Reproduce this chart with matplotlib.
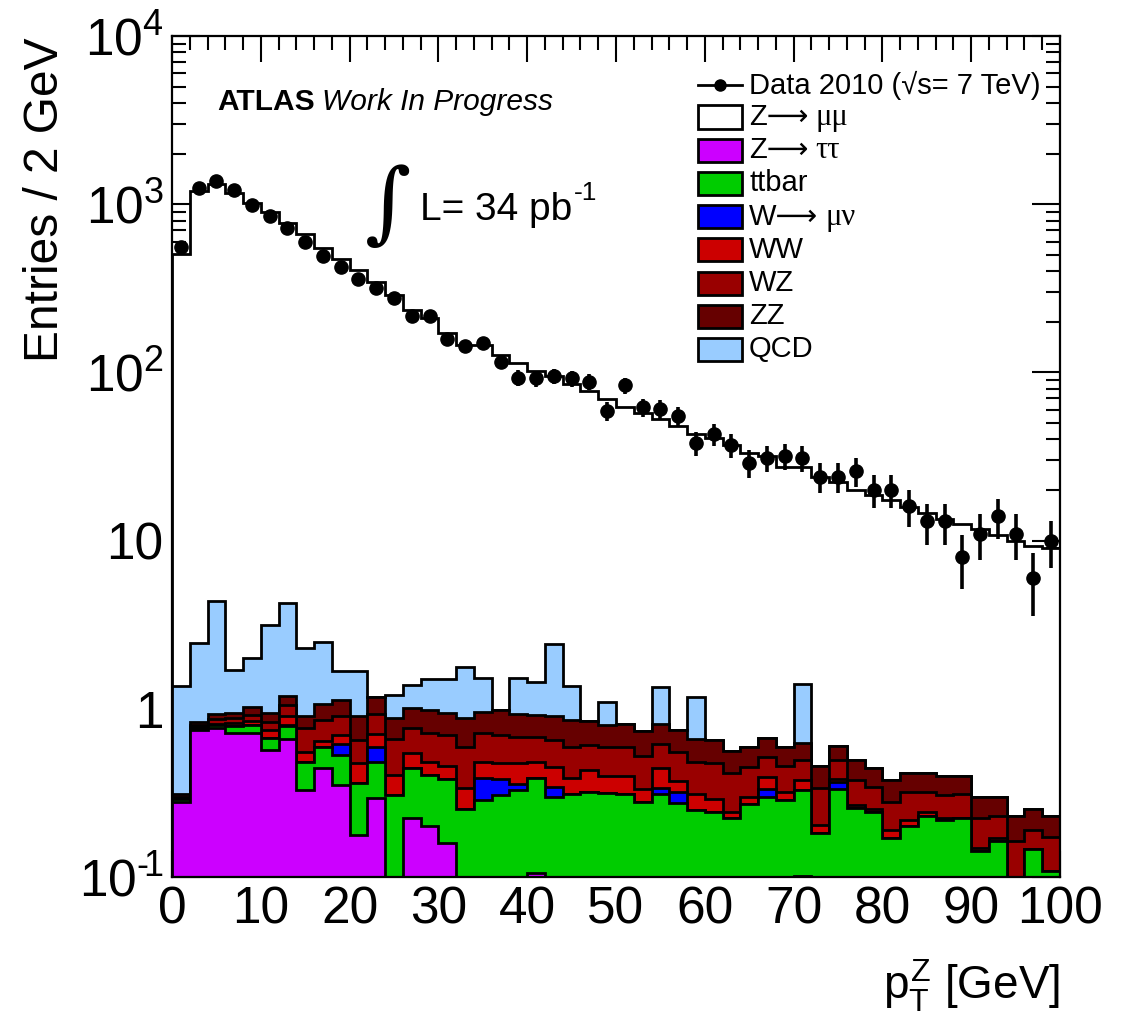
import numpy as np
import matplotlib
matplotlib.use("Agg")
import matplotlib.pyplot as plt
from matplotlib.patches import Rectangle
from matplotlib.lines import Line2D
from matplotlib.ticker import FixedLocator, MultipleLocator, LogLocator, NullFormatter

plt.rcParams['font.family'] = ['Liberation Sans', 'DejaVu Sans']
plt.rcParams['mathtext.fontset'] = 'custom'
plt.rcParams['mathtext.rm'] = 'Liberation Sans'
plt.rcParams['mathtext.it'] = 'Liberation Sans'
plt.rcParams['mathtext.bf'] = 'Liberation Sans:bold'

# ---------------- data ----------------
bin_edges = np.arange(0, 102, 2)

data_2010 = [558, 1250, 1378, 1218, 991, 853, 724, 598, 493, 424,
             360, 319, 278, 217, 216, 158, 144, 149, 115, 93,
             92, 95, 92, 88, 59, 84, 62, 61, 55, 38,
             43, 37, 29, 31, 32, 31, 24, 24, 26, 20,
             20, 16, 13, 13, 8, 11, 14, 11, 6, 10]

mc_total = [507, 1190, 1320, 1160, 1015, 893, 772, 667, 551, 472,
            408, 347, 289, 236, 211, 171, 145, 145, 127, 114,
            102, 95.3, 85.6, 77, 69.4, 61.9, 57.6, 52.8, 47.7, 43.2,
            40.7, 37, 33, 32, 27.5, 27.5, 24, 22.4, 20, 18.7,
            17.5, 15.8, 14.5, 13.4, 12.6, 11.7, 10.8, 10.0, 9.35, 9.0]

z_tautau = [.28, .75, .767, .717, .717, .57, .66, .33, .444, .353,
            .178, .294, 0, .224, .20, .159, 0, 0, 0, 0,
            .105, 0, 0, 0, 0, 0, 0, 0, 0, 0,
            0, 0, 0, 0, 0, .101, 0, 0, 0, 0,
            0, 0, 0, 0, 0, 0, 0, 0, 0, 0]
ttbar = [.01, .01, .033, .068, .083, .10, .13, .156, .152, .18,
         .184, .186, .306, .22, .205, .221, .254, .288, .308, .33,
         .282, .30, .312, .322, .317, .312, .281, .312, .277, .249,
         .242, .224, .272, .30, .285, .229, .182, .333, .257, .242,
         .17, .20, .229, .219, .224, .142, .163, .05, .147, .109]
w_munu = [0, 0, 0, 0, 0, 0, .01, 0, 0, .087,
          0, .11, 0, 0, 0, 0, 0, .098, .072, .028,
          0, .045, 0, 0, 0, 0, 0, .028, .045, 0,
          0, 0, 0, .033, 0, 0, 0, .032, 0, 0,
          0, 0, 0, 0, 0, 0, 0, 0, 0, 0]
ww = [.005, .015, .015, .037, .05, .08, .11, .071, .044, .08,
      .115, .12, .099, .102, .081, .078, .083, .094, .096, .118,
      .099, .105, .075, .112, .083, .088, .052, .104, .048, .063,
      .048, .021, .028, .059, .037, .048, .022, .015, .012, .012,
      .02, .019, .013, .006, 0, .007, .007, 0, 0, 0]
wz = [.005, .025, .055, .058, .07, .09, .14, .21, .22, .21,
      .177, .22, .255, .221, .234, .242, .259, .237, .224, .208,
      .198, .204, .209, .176, .195, .196, .192, .176, .187, .174,
      .186, .169, .15, .128, .136, .115, .136, .113, .109, .091,
      .091, .103, .076, .083, .088, .075, .061, .113, .043, .063]
zz = [.01, .03, .06, .06, .11, .10, .14, .143, .21, .22,
      .246, .25, .22, .243, .26, .24, .284, .243, .28, .246,
      .236, .256, .264, .242, .205, .218, .208, .19, .193, .174,
      .172, .151, .14, .15, .132, .137, .12, .107, .115, .099,
      .097, .092, .096, .088, .084, .076, .069, .066, .064, .057]
qcd = [1.05, 1.63, 3.42, .75, .97, 2.22, 3.06, 1.38, 1.41, .55,
       .77, 0, .33, .38, .52, .56, .90, .56, 0, .59,
       .53, 1.52, .50, 0, .305, 0, 0, .53, 0, .52,
       0, 0, 0, 0, 0, .78, 0, 0, 0, 0,
       0, 0, 0, 0, 0, 0, 0, 0, 0, 0]

# legend labels: (sans part, serif greek part)
labels = [('Z\u27f6', '\u03bc\u03bc'), ('Z\u27f6', '\u03c4\u03c4'), ('ttbar', ''),
          ('W\u27f6', '\u03bc\u03bd'), ('WW', ''), ('WZ', ''), ('ZZ', ''), ('QCD', '')]
colors = {'zmumu': '#ffffff', 'ztt': '#cc00ff', 'tt': '#00cc00', 'w': '#0000ff',
          'ww': '#cc0000', 'wz': '#990000', 'zz': '#660000', 'qcd': '#99ccff'}

# ---------------- figure ----------------
W, H = 1130, 1025
fig = plt.figure(figsize=(W / 100, H / 100), dpi=100)
L, R, T, B = 172, 1060, 36, 877
ax = fig.add_axes([L / W, 1 - B / H, (R - L) / W, (B - T) / H])
ax.set_yscale('log')
ax.set_xlim(0, 100)
ax.set_ylim(0.1, 1e4)

comps = [np.array(z_tautau), np.array(ttbar), np.array(w_munu), np.array(ww),
         np.array(wz), np.array(zz), np.array(qcd)]
ccols = [colors['ztt'], colors['tt'], colors['w'], colors['ww'],
         colors['wz'], colors['zz'], colors['qcd']]
cums = np.cumsum(np.vstack(comps), axis=0)
total = np.array(mc_total, dtype=float)

lw = 2.0
floor = 1e-3
ax.stairs(np.maximum(total, floor), bin_edges, baseline=floor, fill=True,
          facecolor='white', edgecolor='black', lw=lw, zorder=2)
for k in range(len(comps) - 1, -1, -1):
    ax.stairs(np.maximum(cums[k], floor), bin_edges, baseline=floor, fill=True,
              facecolor=ccols[k], edgecolor='black', lw=lw, zorder=2)

centers = 0.5 * (bin_edges[:-1] + bin_edges[1:])
d = np.array(data_2010, dtype=float)
ax.errorbar(centers, d, yerr=np.sqrt(d), fmt='o', color='black', ms=9.5,
            elinewidth=2.6, capsize=0, zorder=5)

for s in ax.spines.values():
    s.set_linewidth(1.6)
    s.set_zorder(10)
ax.xaxis.set_major_locator(MultipleLocator(10))
ax.xaxis.set_minor_locator(MultipleLocator(2))
ax.yaxis.set_major_locator(FixedLocator([0.1, 1, 10, 100, 1000, 10000]))
ax.set_yticklabels(['$10^{\u2010\\!1}$', '1', '10', r'$10^{2}$', r'$10^{3}$', r'$10^{4}$'])
ax.yaxis.set_minor_locator(LogLocator(base=10, subs=np.arange(2, 10), numticks=20))
ax.yaxis.set_minor_formatter(NullFormatter())
ax.tick_params(which='both', direction='in', top=True, right=True, width=1.5,
               labelsize=37, zorder=11)
ax.tick_params(axis='x', which='major', length=19, pad=6)
ax.tick_params(axis='x', which='minor', length=10)
ax.tick_params(axis='y', which='major', length=20, pad=6)
ax.tick_params(axis='y', which='minor', length=10)


def fx(px):
    return px / W


def fy(py):
    return 1 - py / H


renderer = fig.canvas.get_renderer()


def right_px(t):
    return t.get_window_extent(renderer=renderer).x1


fig.text(fx(46), fy(38), 'Entries / 2 GeV', rotation=90, ha='center', va='top', fontsize=34.5)
fig.text(fx(1060), fy(1000), r'$p_{T}^{Z}$ [GeV]', ha='right', va='baseline', fontsize=33)

fig.text(fx(217), fy(110), 'ATLAS', fontweight='bold', fontsize=21.5, ha='left', va='baseline')
fig.text(fx(322), fy(110), 'Work In Progress', fontstyle='italic', fontsize=21.5,
         ha='left', va='baseline')
fig.text(fx(388), fy(207), '\u222b', family=['DejaVu Serif'], fontsize=64,
         ha='center', va='center')
tL = fig.text(fx(420), fy(220), 'L= 34 pb', fontsize=28, ha='left', va='baseline')
fig.text(right_px(tL) / W + 2 / W, fy(200), '-1', fontsize=19, ha='left', va='baseline')

# legend (manual)
leg_x0, leg_w, leg_h = 698, 44, 23
fs_leg = 21
fig.add_artist(Line2D([fx(leg_x0), fx(leg_x0 + leg_w)], [fy(85), fy(85)],
                      color='black', lw=2, transform=fig.transFigure))
fig.add_artist(Line2D([fx(leg_x0 + leg_w / 2)], [fy(85)], color='black', marker='o',
                      ms=8, transform=fig.transFigure))
fig.text(fx(749), fy(85), 'Data 2010 (\u221as= 7 TeV)', fontsize=fs_leg, ha='left', va='center')
leg_cols = [colors['zmumu'], colors['ztt'], colors['tt'], colors['w'],
            colors['ww'], colors['wz'], colors['zz'], colors['qcd']]
for i, ((lab, greek), c) in enumerate(zip(labels, leg_cols)):
    yc = 117 + 33.2 * i
    fig.add_artist(Rectangle((fx(leg_x0), fy(yc + leg_h / 2)), leg_w / W, leg_h / H,
                             facecolor=c, edgecolor='black', lw=2,
                             transform=fig.transFigure))
    t = fig.text(fx(749), fy(yc + 8), lab, fontsize=fs_leg, ha='left', va='baseline')
    if greek:
        fig.text(right_px(t) / W + 7 / W, fy(yc + 8), greek, family=['Liberation Serif'],
                 fontsize=fs_leg + 1, ha='left', va='baseline')

fig.savefig('out.png', dpi=100)
